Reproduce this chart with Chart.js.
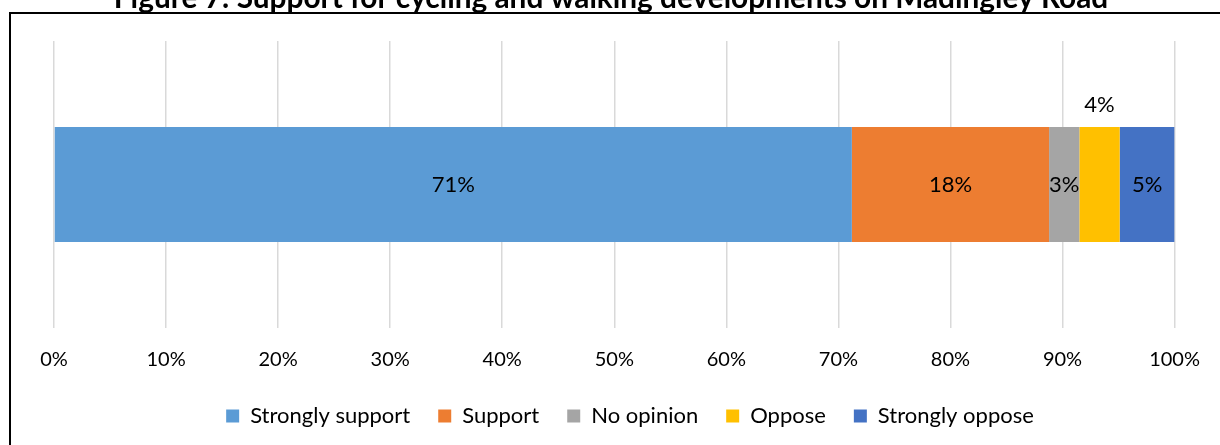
<!DOCTYPE html>
<html>
<head>
<meta charset="utf-8">
<script src="https://cdn.jsdelivr.net/npm/chart.js@4/dist/chart.umd.min.js"></script>
<style>
  body { margin: 0; background: #fff; }
  #wrap { width: 1220px; height: 445px; }
</style>
</head>
<body>
<div id="wrap"><canvas id="supportChart" width="1220" height="445"></canvas></div>
<script>
var chartTitle = 'Figure 7: Support for cycling and walking developments on Madingley Road';
var categories = [''];
var seriesNames = ['Strongly support', 'Support', 'No opinion', 'Oppose', 'Strongly oppose'];
var seriesValues = [71.2, 17.6, 2.7, 3.6, 4.9];
var valueLabels = ['71%', '18%', '3%', '4%', '5%'];
var tickValues = [0, 10, 20, 30, 40, 50, 60, 70, 80, 90, 100];

var colours = ['#5B9BD5', '#ED7D31', '#A5A5A5', '#FFC000', '#4472C4'];
var labelAboveBar = 'Oppose';

Chart.defaults.font.family = 'Lato, "Open Sans", sans-serif';
Chart.defaults.color = '#000';

// frame and cut-off title, drawn like the original picture
var framePlugin = {
    id: 'frame',
    afterLayout: function (chart) {
        // nudge legend row so it sits where the original one does
        chart.legend.left += 15;
        chart.legend.right += 15;
    },
    afterDraw: function (chart) {
        var ctx = chart.ctx;
        ctx.save();
        ctx.strokeStyle = '#000';
        ctx.lineWidth = 2;
        ctx.strokeRect(10, 13, 1300, 600);
        ctx.font = 'bold 26px Lato';
        var w = ctx.measureText(chartTitle).width;
        var size = 26 * 996 / w;
        ctx.font = 'bold ' + size.toFixed(1) + 'px Lato';
        ctx.fillStyle = '#000';
        ctx.textAlign = 'center';
        ctx.textBaseline = 'alphabetic';
        ctx.fillText(chartTitle, 611, 8);
        ctx.restore();
    }
};

var valueLabelPlugin = {
    id: 'valueLabels',
    afterDatasetsDraw: function (chart) {
        var ctx = chart.ctx;
        ctx.save();
        ctx.font = '22px Lato';
        ctx.fillStyle = '#000';
        ctx.textAlign = 'center';
        ctx.textBaseline = 'middle';
        chart.data.datasets.forEach(function (ds, i) {
            var el = chart.getDatasetMeta(i).data[0];
            var x = (el.x + el.base) / 2;
            var y = el.y;
            if (ds.label === labelAboveBar) {
                y = el.y - el.height / 2 - 22;
            }
            ctx.fillText(valueLabels[i], x, y);
        });
        ctx.restore();
    }
};

var datasets = seriesNames.map(function (name, i) {
    return {
        label: name,
        data: [seriesValues[i]],
        backgroundColor: colours[i],
        borderWidth: 0,
        categoryPercentage: 0.8,
        barPercentage: 0.5
    };
});

var ctx = document.getElementById('supportChart').getContext('2d');
var supportChart = new Chart(ctx, {
    type: 'bar',
    data: {
        labels: categories,
        datasets: datasets
    },
    options: {
        indexAxis: 'y',
        responsive: false,
        animation: false,
        layout: {
            padding: { left: 54, right: 44, top: 41, bottom: 8 }
        },
        scales: {
            x: {
                stacked: true,
                min: 0,
                max: 100,
                afterBuildTicks: function (axis) {
                    axis.ticks = tickValues.map(function (v) { return { value: v }; });
                },
                afterFit: function (axis) {
                    axis.height -= 15;
                },
                border: { display: false },
                grid: {
                    color: '#D9D9D9',
                    lineWidth: 1.5,
                    drawTicks: false
                },
                ticks: {
                    padding: 20,
                    maxRotation: 0,
                    font: { size: 20 },
                    callback: function (v) { return v + '%'; }
                }
            },
            y: {
                stacked: true,
                display: false
            }
        },
        plugins: {
            legend: {
                display: true,
                position: 'bottom',
                labels: {
                    boxWidth: 13,
                    boxHeight: 13,
                    padding: 28,
                    font: { size: 22 }
                }
            },
            tooltip: { enabled: false }
        }
    },
    plugins: [framePlugin, valueLabelPlugin]
});
</script>
</body>
</html>
